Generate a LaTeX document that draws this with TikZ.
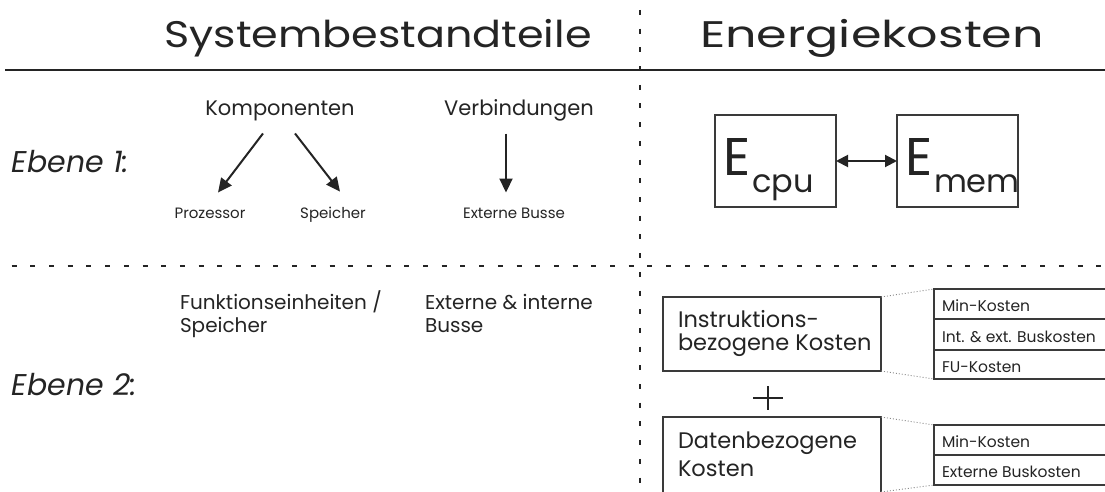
\documentclass[tikz,border=0pt]{standalone}
\usepackage{fontspec}
\setmainfont{Poppins}
\newfontfamily\headwide{Poppins}[FakeStretch=1.16]
\newfontfamily\headwider{Poppins}[FakeStretch=1.33]
\usetikzlibrary{arrows.meta,calc}
\definecolor{ink}{HTML}{242424}
\definecolor{frame}{HTML}{3A3A3A}
\definecolor{dots}{HTML}{8A8A8A}

\begin{document}
\begin{tikzpicture}[x=1pt,y=-1pt,
  every node/.style={inner sep=0pt, outer sep=0pt, text=ink},
  headline/.style={anchor=base},
  levellabel/.style={font=\fontsize{30}{34}\selectfont\itshape, anchor=base west},
  topic/.style={font=\fontsize{21}{25}\selectfont, anchor=base},
  item/.style={font=\fontsize{15}{18}\selectfont, anchor=base},
  plain/.style={font=\fontsize{20}{23}\selectfont, anchor=base west, align=left},
  boxtext/.style={font=\fontsize{22.5}{24}\selectfont, anchor=base west},
  celltext/.style={font=\fontsize{15.5}{18}\selectfont, anchor=base west},
  gridline/.style={line width=2pt, draw=ink, dash pattern=on 5pt off 13.7pt},
  arr/.style={line width=2pt, draw=ink, -{Triangle[length=14pt,width=13pt]}},
  biarr/.style={line width=2pt, draw=ink, {Triangle[length=12pt,width=12pt]}-{Triangle[length=12pt,width=12pt]}},
  ebox/.style={draw=frame, line width=1.2pt, minimum width=121pt, minimum height=92pt},
  costbox/.style={minimum width=218pt},
  cell/.style={draw=frame, line width=1.1pt},
  link/.style={draw=dots, line width=0.9pt, dash pattern=on 1pt off 2pt}
]
\useasboundingbox (0,0) rectangle (1105,492);

% section dividers
\draw[line width=2.5pt, draw=ink] (5,70) -- (1105,70);
\draw[gridline] (640,10) -- (640,492);
\draw[gridline] (11.6,266) -- (1105,266);

% headings
\node[headline, font=\headwide\fontsize{37}{42}\selectfont] (hsys) at (378,48) {Systembestandteile};
\node[headline, font=\headwider\fontsize{37}{42}\selectfont] (hen) at (872,48) {Energiekosten};

% level labels
\node[levellabel] (lv1) at (12,172) {Ebene 1:};
\node[levellabel] (lv2) at (12,395) {Ebene 2:};

% level 1: system parts
\node[topic] (komp) at (280,116) {Komponenten};
\node[topic] (verb) at (519,116) {Verbindungen};
\node[item] (proz) at (210,218) {Prozessor};
\node[item] (spei) at (333,218) {Speicher};
\node[item] (bus)  at (514,218) {Externe Busse};
\draw[arr] ($(komp.south)+(-17,12)$) -- ($(proz.north)+(8,-15)$);
\draw[arr] ($(komp.south)+(15,12)$) -- ($(spei.north)+(7,-15)$);
\draw[arr] ($(verb.south)+(-13,12)$) -- ($(bus.north)+(-8,-15)$);

% level 1: energy
\node[ebox] (ecpu) at (775.5,161) {};
\node[ebox] (emem) at (957.5,161) {};
\node[font=\fontsize{53}{60}\selectfont, anchor=base west] (ecpuE) at (723,175) {E};
\node[font=\fontsize{32}{36}\selectfont, anchor=base west] (ecpuS) at (752,192) {cpu};
\node[font=\fontsize{53}{60}\selectfont, anchor=base west] (ememE) at (905,175) {E};
\node[font=\fontsize{32}{36}\selectfont, anchor=base west] (ememS) at (934,192) {mem};
\draw[biarr] (ecpu.east) -- (emem.west);

% level 2: system parts
\node[plain] (fu) at (180,332) {Funktionseinheiten /\\Speicher};
\node[plain] (ebus) at (425,332) {Externe \& interne\\Busse};

% level 2: instruction related costs
\node[costbox, draw=frame, line width=1.2pt, minimum height=74pt] (instr) at (772,334) {};
\node[boxtext] (instrA) at (678,327) {Instruktions-};
\node[boxtext] (instrB) at (678,350) {bezogene Kosten};

% plus sign
\coordinate (plus) at (768,398);
\draw[line width=1.4pt, draw=ink] ($(plus)+(-15,0)$) -- ($(plus)+(15,0)$);
\draw[line width=1.4pt, draw=ink] ($(plus)+(0,-12)$) -- ($(plus)+(0,12)$);

% level 2: data related costs (runs past the lower edge)
\node[costbox, minimum height=75pt] (data) at (772,454.5) {};
\draw[draw=frame, line width=1.2pt] (data.south west) |- (data.north east) -- (data.south east);
\node[boxtext] (dataA) at (678,448) {Datenbezogene};
\node[boxtext] (dataB) at (678,476) {Kosten};

% cost tables (open to the right edge)
\node[minimum width=171pt, minimum height=90pt] (tabA) at (1019.5,334) {};
\draw[cell] (tabA.north east) -| (tabA.south west) -- (tabA.south east);
\draw[cell] (934,319) -- (1105,319);
\draw[cell] (934,350) -- (1105,350);
\node[celltext] (tA1) at (942,311) {Min-Kosten};
\node[celltext] (tA2) at (942,342) {Int. \& ext. Buskosten};
\node[celltext] (tA3) at (942,372) {FU-Kosten};

\node[minimum width=171pt, minimum height=60pt] (tabB) at (1019.5,455) {};
\draw[cell] (tabB.north east) -| (tabB.south west) -- (tabB.south east);
\draw[cell] (934,455) -- (1105,455);
\node[celltext] (tB1) at (942,447) {Min-Kosten};
\node[celltext] (tB2) at (942,477) {Externe Buskosten};

% dotted links from cost boxes to tables
\draw[link] (instr.north east) -- (tabA.north west);
\draw[link] (instr.south east) -- (tabA.south west);
\draw[link] (data.north east) -- (tabB.north west);
\draw[link] (data.south east) -- (tabB.south west);
\end{tikzpicture}
\end{document}
